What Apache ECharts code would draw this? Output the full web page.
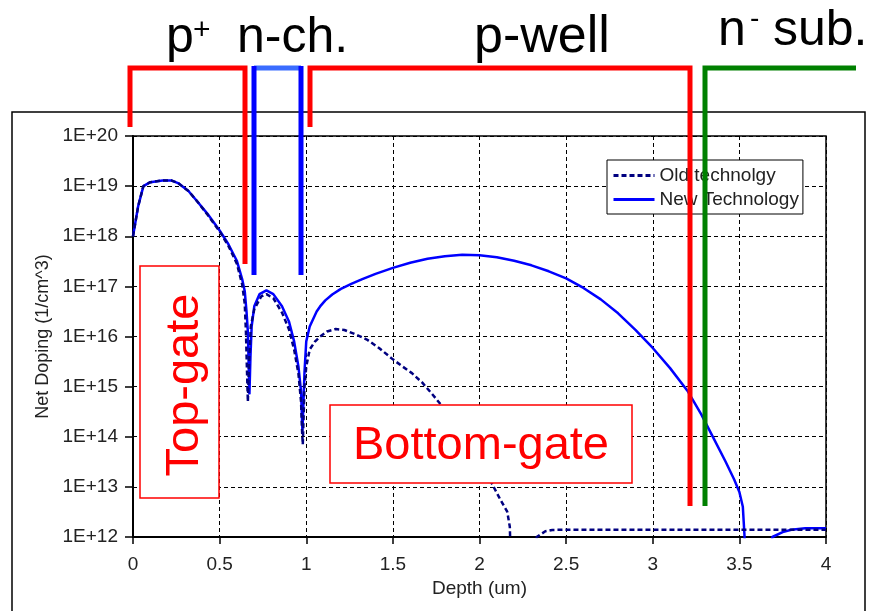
<!DOCTYPE html>
<html>
<head>
<meta charset="utf-8">
<script src="https://cdn.jsdelivr.net/npm/echarts@6/dist/echarts.min.js"></script>
<style>
html,body{margin:0;padding:0;background:#fff;}
#chart{width:875px;height:611px;}
</style>
</head>
<body>
<div id="chart"></div>
<script>
// ---- data ----
var seriesNames = ['Old technolgy', 'New Technology'];

var depthOld = [0, 0.03, 0.06, 0.10, 0.17, 0.22, 0.26, 0.32, 0.37, 0.43, 0.50, 0.55, 0.60, 0.63, 0.645, 0.652, 0.658, 0.663, 0.670, 0.68, 0.70, 0.74, 0.77, 0.81, 0.86, 0.90, 0.93, 0.955, 0.97, 0.975, 0.98, 0.99, 1.00, 1.02, 1.05, 1.08, 1.12, 1.17, 1.22, 1.28, 1.35, 1.42, 1.50, 1.55, 1.61, 1.67, 1.73, 1.80, 1.88, 1.95, 2.02, 2.075, 2.12, 2.16, 2.175, 2.185, 2.32, 2.33, 2.38, 2.42, 2.5, 3.0, 3.5, 4.0];
var dopingOld = [1e18, 4e18, 1e19, 1.2e19, 1.3e19, 1.3e19, 1.15e19, 8e18, 5e18, 2.7e18, 1.25e18, 6.5e17, 2.8e17, 1.1e17, 4.5e16, 1.2e16, 2e15, 5e14, 3e15, 1.6e16, 3.5e16, 6.3e16, 7e16, 5.8e16, 3e16, 1.4e16, 5.5e15, 1.8e15, 5e14, 1.5e14, 7e13, 1e15, 2.5e15, 5.5e15, 7.9e15, 1e16, 1.26e16, 1.41e16, 1.35e16, 1.12e16, 8.7e15, 5.9e15, 3.5e15, 2.6e15, 1.86e15, 1.2e15, 6.9e14, 3.5e14, 1.6e14, 7e13, 2.8e13, 1.1e13, 5.6e12, 3.2e12, 1.6e12, 1e11, 1e11, 1e12, 1.3e12, 1.38e12, 1.4e12, 1.4e12, 1.4e12, 1.4e12];

var depthNew = [0, 0.03, 0.06, 0.10, 0.17, 0.22, 0.26, 0.32, 0.37, 0.43, 0.50, 0.55, 0.60, 0.63, 0.645, 0.655, 0.663, 0.668, 0.672, 0.678, 0.685, 0.70, 0.73, 0.77, 0.81, 0.86, 0.90, 0.93, 0.955, 0.97, 0.978, 0.99, 1.00, 1.02, 1.04, 1.06, 1.08, 1.11, 1.15, 1.20, 1.26, 1.32, 1.40, 1.50, 1.60, 1.70, 1.80, 1.90, 2.00, 2.10, 2.20, 2.30, 2.40, 2.50, 2.60, 2.70, 2.80, 2.90, 3.00, 3.10, 3.20, 3.28, 3.35, 3.42, 3.47, 3.50, 3.52, 3.525, 3.53, 3.532, 3.67, 3.69, 3.75, 3.80, 3.88, 4.00];
var dopingNew = [1e18, 4e18, 1e19, 1.2e19, 1.3e19, 1.3e19, 1.15e19, 8e18, 5e18, 2.8e18, 1.3e18, 7e17, 3.2e17, 1.4e17, 8e16, 3.2e16, 1.25e16, 2.5e15, 7e14, 4e15, 1.6e16, 4e16, 7e16, 8.3e16, 7e16, 4e16, 2e16, 8e15, 2.5e15, 8e14, 1.3e14, 2e15, 8e15, 1.58e16, 2.24e16, 3.16e16, 3.98e16, 5.25e16, 6.9e16, 8.9e16, 1.12e17, 1.38e17, 1.78e17, 2.34e17, 2.95e17, 3.55e17, 3.98e17, 4.27e17, 4.17e17, 3.8e17, 3.24e17, 2.63e17, 2.0e17, 1.45e17, 9.3e16, 5.5e16, 2.9e16, 1.35e16, 5.9e15, 2.34e15, 8.3e14, 2.8e14, 9.5e13, 3.2e13, 1.4e13, 7.9e12, 4e12, 2e12, 1e12, 1e11, 1e11, 1e12, 1.25e12, 1.4e12, 1.5e12, 1.5e12];

var xTickLabels = ['0', '0.5', '1', '1.5', '2', '2.5', '3', '3.5', '4'];
var yTickLabels = ['1E+12', '1E+13', '1E+14', '1E+15', '1E+16', '1E+17', '1E+18', '1E+19', '1E+20'];

function pairs(xs, ys) { return xs.map(function (x, i) { return [x, ys[i]]; }); }

var FONT = "'Liberation Sans', Arial, sans-serif";
var chart = echarts.init(document.getElementById('chart'), null, { renderer: 'canvas' });

function bracket(points, color) {
  return { type: 'polyline', z: 100, shape: { points: points }, style: { stroke: color, lineWidth: 5, fill: null, lineJoin: 'miter' } };
}
function txt(x, y, s, size, color, align) {
  return { type: 'text', z: 101, x: x, y: y, style: { text: s, font: size + 'px ' + FONT, fill: color, align: align || 'left', verticalAlign: 'middle' } };
}

var option = {
  animation: false,
  backgroundColor: '#fff',
  grid: { left: 133, top: 136, width: 693, height: 401, show: true, borderColor: '#000', borderWidth: 1.5, backgroundColor: 'transparent', containLabel: false },
  legend: {
    data: seriesNames, orient: 'vertical', left: 607, top: 160,
    itemWidth: 41, itemHeight: 14, itemGap: 5, padding: [6, 4, 5, 5],
    borderColor: '#000', borderWidth: 1, backgroundColor: '#fff',
    itemStyle: { opacity: 0 },
    lineStyle: { width: 3 },
    textStyle: { fontSize: 19, color: '#222', fontFamily: FONT }
  },
  xAxis: {
    type: 'value', min: 0, max: 4, interval: 0.5,
    name: 'Depth (um)', nameLocation: 'middle', nameGap: 42,
    nameTextStyle: { fontSize: 19, color: '#222', fontFamily: FONT },
    axisLine: { show: true, onZero: false, lineStyle: { color: '#000', width: 2 } },
    axisTick: { show: true, inside: false, length: 7, lineStyle: { color: '#000', width: 1.5 } },
    axisLabel: { fontSize: 19, color: '#222', fontFamily: FONT, margin: 18,
      formatter: function (v) { return xTickLabels[Math.round(v / 0.5)]; } },
    splitLine: { show: true, lineStyle: { type: [4, 3], color: '#000', width: 1 } }
  },
  yAxis: {
    type: 'log', logBase: 10, min: 1e12, max: 1e20, interval: 1,
    name: 'Net Doping (1/cm^3)', nameLocation: 'middle', nameGap: 74,
    nameTextStyle: { fontSize: 18, color: '#222', fontFamily: FONT },
    axisLine: { show: true, lineStyle: { color: '#000', width: 2 } },
    axisTick: { show: true, inside: false, length: 8, lineStyle: { color: '#000', width: 1.5 } },
    axisLabel: { fontSize: 19, color: '#222', fontFamily: FONT, margin: 15,
      formatter: function (v) { return yTickLabels[Math.round(Math.log10(v)) - 12]; } },
    splitLine: { show: true, lineStyle: { type: [4, 3], color: '#000', width: 1 } }
  },
  series: [
    { name: seriesNames[0], type: 'line', data: pairs(depthOld, dopingOld), symbol: 'none', z: 3, clip: true,
      lineStyle: { color: '#000080', width: 2.5, type: [5, 3] }, itemStyle: { color: '#000080' } },
    { name: seriesNames[1], type: 'line', data: pairs(depthNew, dopingNew), symbol: 'none', z: 2, clip: true,
      lineStyle: { color: '#0000ff', width: 2.5 }, itemStyle: { color: '#0000ff' } }
  ],
  graphic: [
    // outer frame
    { type: 'rect', z: 90, shape: { x: 12, y: 112, width: 853, height: 530 }, style: { stroke: '#000', lineWidth: 1.5, fill: null } },
    // annotation boxes
    { type: 'rect', z: 99, shape: { x: 140, y: 266, width: 79, height: 232 }, style: { stroke: '#ff0000', lineWidth: 1.5, fill: '#fff' } },
    { type: 'rect', z: 99, shape: { x: 330, y: 405, width: 302, height: 78 }, style: { stroke: '#ff0000', lineWidth: 1.5, fill: '#fff' } },
    { type: 'text', z: 101, x: 185, y: 385, rotation: Math.PI / 2,
      style: { text: 'Top-gate', font: '47px ' + FONT, fill: '#ff0000', align: 'center', verticalAlign: 'middle' } },
    txt(481, 446, 'Bottom-gate', 47, '#ff0000', 'center'),
    // region brackets
    bracket([[130, 127], [130, 68], [245, 68], [245, 264]], '#ff0000'),
    { type: 'line', z: 100, shape: { x1: 254, y1: 68, x2: 301, y2: 68 }, style: { stroke: '#3a6cff', lineWidth: 5 } },
    { type: 'line', z: 100, shape: { x1: 254, y1: 66, x2: 254, y2: 275 }, style: { stroke: '#0000ff', lineWidth: 5 } },
    { type: 'line', z: 100, shape: { x1: 301, y1: 66, x2: 301, y2: 275 }, style: { stroke: '#0000ff', lineWidth: 5 } },
    bracket([[310, 127], [310, 68], [690, 68], [690, 506]], '#ff0000'),
    bracket([[705, 506], [705, 68], [856, 68]], '#008000'),
    // region labels
    txt(166, 38, 'p', 50, '#000'),
    txt(193, 31, '+', 30, '#000'),
    txt(237, 38, 'n-ch.', 50, '#000'),
    txt(474, 38, 'p-well', 52, '#000'),
    txt(718, 31, 'n', 50, '#000'),
    txt(750, 19, '-', 28, '#000'),
    txt(773, 31, 'sub.', 50, '#000')
  ]
};
chart.setOption(option);
</script>
</body>
</html>
